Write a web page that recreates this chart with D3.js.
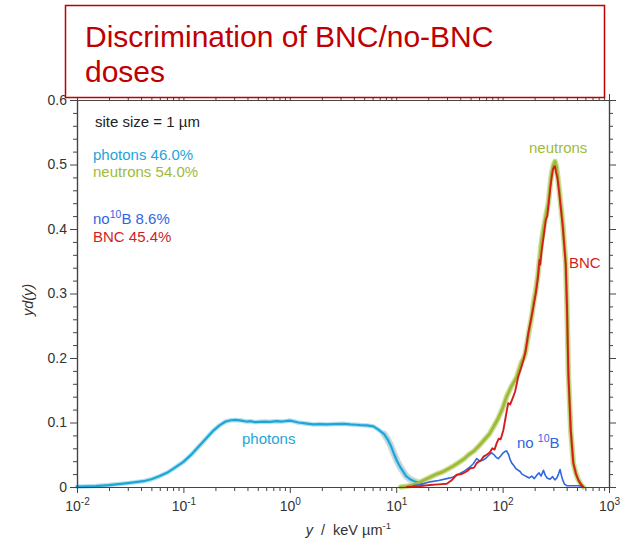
<!DOCTYPE html>
<html>
<head>
<meta charset="utf-8">
<script src="https://cdn.jsdelivr.net/npm/d3@7"></script>
<style>
  body { margin: 0; background: #fff; }
  svg { display: block; font-family: "Liberation Sans", Arial, sans-serif; }
</style>
</head>
<body>
<svg id="chart" width="631" height="543"></svg>
<script>
// lineal energy y (keV/um) and yd(y) values
const photonsX = [0.01, 0.015, 0.02, 0.03, 0.042, 0.05, 0.06, 0.07, 0.08, 0.1, 0.12, 0.14, 0.165, 0.19, 0.22, 0.25, 0.28, 0.31, 0.35, 0.39, 0.43, 0.47, 0.52, 0.58, 0.65, 0.75, 0.85, 0.95, 1.0, 1.1, 1.2, 1.35, 1.5, 1.67, 1.9, 2.25, 2.6, 3.2, 3.7, 4.2, 4.6, 5.3, 6.1, 6.8, 7.7, 8.3, 8.9, 9.5, 10.2, 11, 12.4, 13.5, 14.8, 16, 17.5];
const photonsY = [0.0005, 0.0015, 0.003, 0.006, 0.009, 0.012, 0.017, 0.022, 0.028, 0.039, 0.051, 0.063, 0.076, 0.087, 0.096, 0.1015, 0.1035, 0.104, 0.103, 0.1015, 0.102, 0.1005, 0.101, 0.1015, 0.101, 0.102, 0.1015, 0.1025, 0.103, 0.1015, 0.100, 0.099, 0.098, 0.097, 0.0975, 0.097, 0.0975, 0.098, 0.097, 0.0965, 0.096, 0.0955, 0.094, 0.089, 0.082, 0.074, 0.064, 0.052, 0.040, 0.030, 0.017, 0.012, 0.009, 0.007, 0.005];

const neutronsX = [11, 12.6, 14, 16, 18, 20.8, 24, 27, 30, 34, 38, 43, 48, 54, 61, 68, 75, 82, 90, 100, 109, 120, 130, 136, 145, 152, 158, 163, 170, 180, 188, 195, 205, 215, 225, 233, 245, 258, 269, 280, 289, 300, 311, 320, 327, 341, 367, 392, 403, 415, 437, 462, 490, 515, 545, 574];
const neutronsY = [0, 0.001, 0.003, 0.006, 0.010, 0.015, 0.020, 0.023, 0.027, 0.032, 0.037, 0.043, 0.050, 0.056, 0.065, 0.074, 0.082, 0.093, 0.105, 0.122, 0.140, 0.155, 0.165, 0.171, 0.185, 0.195, 0.200, 0.207, 0.224, 0.248, 0.265, 0.285, 0.305, 0.330, 0.360, 0.383, 0.405, 0.425, 0.440, 0.468, 0.487, 0.499, 0.505, 0.498, 0.486, 0.460, 0.409, 0.347, 0.280, 0.176, 0.088, 0.037, 0.020, 0.011, 0.004, 0];

const bncX = [12.6, 16, 20.8, 25, 29.9, 33, 37, 41, 45.9, 50, 54, 57, 63, 66, 71, 76, 80, 84, 88, 92, 96, 101.6, 106, 110, 113, 118, 126, 131, 136, 140, 148, 157, 165, 175, 185, 195, 205, 215, 222, 226, 233, 245, 255, 263, 269, 280, 289, 297, 305, 311, 318, 327, 341, 367, 392, 403, 415, 437, 462, 490, 515, 545, 574];
const bncY = [0, 0.001, 0.003, 0.004, 0.005, 0.010, 0.019, 0.020, 0.024, 0.029, 0.030, 0.037, 0.042, 0.047, 0.050, 0.054, 0.060, 0.058, 0.068, 0.075, 0.074, 0.088, 0.105, 0.120, 0.130, 0.128, 0.140, 0.148, 0.160, 0.171, 0.183, 0.197, 0.212, 0.240, 0.260, 0.280, 0.300, 0.325, 0.352, 0.345, 0.367, 0.393, 0.415, 0.420, 0.435, 0.462, 0.480, 0.492, 0.497, 0.497, 0.488, 0.480, 0.455, 0.405, 0.345, 0.278, 0.176, 0.088, 0.037, 0.020, 0.011, 0.004, 0];

const no10bX = [14.5, 17, 20.8, 25, 29.9, 34, 39.8, 44, 49.4, 53, 57, 61, 65.9, 70, 75, 79, 83, 87, 91, 96, 100, 105, 109, 114, 118, 122, 128, 134, 140, 146, 152, 160, 169, 178, 188, 198, 209, 220, 230, 242, 252, 262, 279, 295, 310, 323, 335, 347, 357, 367, 380, 400, 440, 480, 533, 560];
const no10bY = [0.002, 0.004, 0.008, 0.010, 0.013, 0.015, 0.021, 0.025, 0.031, 0.036, 0.044, 0.040, 0.042, 0.045, 0.050, 0.053, 0.050, 0.046, 0.044, 0.048, 0.052, 0.055, 0.056, 0.050, 0.042, 0.037, 0.033, 0.028, 0.026, 0.024, 0.020, 0.018, 0.016, 0.014, 0.017, 0.013, 0.018, 0.022, 0.017, 0.026, 0.018, 0.014, 0.012, 0.016, 0.011, 0.014, 0.020, 0.027, 0.018, 0.011, 0.005, 0.002, 0.002, 0.002, 0.002, 0];

const xMajorTicks = [-2, -1, 0, 1, 2, 3];          // decade exponents
const yMajorTicks = [0, 0.1, 0.2, 0.3, 0.4, 0.5, 0.6];
const yTickLabels = ["0", "0.1", "0.2", "0.3", "0.4", "0.5", "0.6"];

const colors = {
  photons: "#1ea5d8",
  neutrons: "#9dbb36",
  bnc: "#d51d1d",
  no10b: "#2f66e2",
  title: "#c00000",
  axis: "#444"
};

const svg = d3.select("#chart");
const margin = { top: 100, right: 22, bottom: 56, left: 77 };
const W = 631, H = 543;

const x = d3.scaleLog().domain([0.01, 1000]).range([margin.left, W - margin.right]);
const y = d3.scaleLinear().domain([0, 0.6]).range([H - margin.bottom, margin.top]);

// minor tick values
const xMinor = [];
xMajorTicks.slice(0, -1).forEach(e => {
  for (let k = 2; k <= 9; k++) xMinor.push(k * Math.pow(10, e));
});
const yMinor = d3.range(0, 31).map(i => i * 0.02).filter(v => Math.abs(v * 10 - Math.round(v * 10)) > 1e-6);

// lines
const line = d3.line().x(d => x(d[0])).y(d => y(d[1]));
const pairs = (xs, ys) => xs.map((v, i) => [v, ys[i]]);

const photons = pairs(photonsX, photonsY);
const neutrons = pairs(neutronsX, neutronsY);
const bnc = pairs(bncX, bncY);
const no10b = pairs(no10bX, no10bY);

const g = svg.append("g").attr("fill", "none").attr("stroke-linejoin", "round").attr("stroke-linecap", "round");

// soft halos (uncertainty bands)
g.append("path").attr("d", line(photons.filter(d => d[0] >= 7))).attr("stroke", "#c8c8c8").attr("stroke-width", 7).attr("opacity", 0.7);
g.append("path").attr("d", line(photons)).attr("stroke", "#9fd8ee").attr("stroke-width", 4.5).attr("opacity", 0.8);
g.append("path").attr("d", line(neutrons)).attr("stroke", "#c9d98e").attr("stroke-width", 5.5).attr("opacity", 0.9);

g.append("path").attr("d", line(photons)).attr("stroke", colors.photons).attr("stroke-width", 2.2);
g.append("path").attr("d", line(neutrons)).attr("stroke", colors.neutrons).attr("stroke-width", 2.8);
g.append("path").attr("d", line(no10b)).attr("stroke", colors.no10b).attr("stroke-width", 1.6);
g.append("path").attr("d", line(bnc)).attr("stroke", colors.bnc).attr("stroke-width", 1.9);

// axes
const plotBottom = y.range()[0], plotTop = y.range()[1];
const plotLeft = x.range()[0], plotRight = x.range()[1];

const styleAxis = sel => {
  sel.selectAll("path, line").attr("stroke", colors.axis).attr("stroke-width", 1);
  sel.select(".domain").attr("stroke-width", 1.2);
};

// bottom
svg.append("g").attr("transform", `translate(0,${plotBottom})`)
  .call(d3.axisBottom(x).tickValues(xMinor).tickSize(4).tickFormat("").tickSizeOuter(0))
  .call(styleAxis);
const xAxis = svg.append("g").attr("transform", `translate(0,${plotBottom})`)
  .call(d3.axisBottom(x).tickValues(xMajorTicks.map(e => Math.pow(10, e))).tickSize(6).tickSizeOuter(0).tickFormat(""))
  .call(styleAxis);
xAxis.selectAll(".tick").each(function(d, i) {
  const t = d3.select(this).append("text")
    .attr("y", 24).attr("fill", "#333").attr("font-size", 14).attr("text-anchor", "middle");
  t.append("tspan").text("10");
  t.append("tspan").attr("dy", -6).attr("font-size", 10).text(xMajorTicks[i] < 0 ? "-" + Math.abs(xMajorTicks[i]) : xMajorTicks[i]);
});

// top
svg.append("g").attr("transform", `translate(0,${plotTop})`)
  .call(d3.axisTop(x).tickValues(xMinor).tickSize(4).tickFormat("").tickSizeOuter(0))
  .call(styleAxis);
svg.append("g").attr("transform", `translate(0,${plotTop})`)
  .call(d3.axisTop(x).tickValues(xMajorTicks.map(e => Math.pow(10, e))).tickSize(6).tickSizeOuter(0).tickFormat(""))
  .call(styleAxis);

// left
svg.append("g").attr("transform", `translate(${plotLeft},0)`)
  .call(d3.axisLeft(y).tickValues(yMinor).tickSize(4).tickFormat("").tickSizeOuter(0))
  .call(styleAxis);
const yAxis = svg.append("g").attr("transform", `translate(${plotLeft},0)`)
  .call(d3.axisLeft(y).tickValues(yMajorTicks).tickSize(7).tickSizeOuter(0).tickFormat((d, i) => yTickLabels[i]))
  .call(styleAxis);
yAxis.selectAll("text").attr("font-size", 14).attr("fill", "#333").attr("font-family", "Liberation Sans, Arial, sans-serif").attr("x", -10);

// right
svg.append("g").attr("transform", `translate(${plotRight},0)`)
  .call(d3.axisRight(y).tickValues(yMinor).tickSize(4).tickFormat("").tickSizeOuter(0))
  .call(styleAxis);
svg.append("g").attr("transform", `translate(${plotRight},0)`)
  .call(d3.axisRight(y).tickValues(yMajorTicks).tickSize(7).tickSizeOuter(0).tickFormat(""))
  .call(styleAxis);

// axis titles
svg.append("text")
  .attr("transform", `translate(33,${y(0.29)}) rotate(-90)`)
  .attr("text-anchor", "middle").attr("font-size", 14.5).attr("font-style", "italic").attr("fill", "#333")
  .text("yd(y)");

const xt = svg.append("text")
  .attr("x", x(Math.pow(10, 0.55))).attr("y", 535)
  .attr("text-anchor", "middle").attr("font-size", 14.5).attr("fill", "#333");
xt.append("tspan").attr("font-style", "italic").text("y");
xt.append("tspan").text("\u00a0\u00a0/\u00a0\u00a0keV \u00b5m");
xt.append("tspan").attr("dy", -6).attr("font-size", 9.5).text("-1");

// annotations inside plot
const ann = (tx, ty, txt, color, size) => svg.append("text")
  .attr("x", tx).attr("y", ty).attr("fill", color).attr("font-size", size || 15).text(txt);

ann(95, 127, "site size = 1 \u00b5m", "#222", 15);
ann(93, 160, "photons 46.0%", colors.photons);
ann(93, 177, "neutrons 54.0%", colors.neutrons);
const nb = svg.append("text").attr("x", 93).attr("y", 224).attr("fill", colors.no10b).attr("font-size", 15);
nb.append("tspan").text("no");
nb.append("tspan").attr("dy", -6).attr("font-size", 10.5).text("10");
nb.append("tspan").attr("dy", 6).text("B 8.6%");
ann(93, 242, "BNC 45.4%", colors.bnc);

ann(529, 153, "neutrons", colors.neutrons);
ann(569, 268, "BNC", colors.bnc);
ann(242, 444, "photons", colors.photons);
const nb2 = svg.append("text").attr("x", 517).attr("y", 448).attr("fill", colors.no10b).attr("font-size", 15);
nb2.append("tspan").text("no ");
nb2.append("tspan").attr("dy", -6).attr("font-size", 10.5).text("10");
nb2.append("tspan").attr("dy", 6).text("B");

// title box
svg.append("rect")
  .attr("x", 65.5).attr("y", 5.5).attr("width", 539).attr("height", 92)
  .attr("fill", "#fff").attr("stroke", colors.title).attr("stroke-width", 1.5);
svg.append("text").attr("x", 85).attr("y", 47).attr("fill", colors.title).attr("font-size", 30)
  .text("Discrimination of BNC/no-BNC");
svg.append("text").attr("x", 85).attr("y", 82).attr("fill", colors.title).attr("font-size", 30)
  .text("doses");
</script>
</body>
</html>
